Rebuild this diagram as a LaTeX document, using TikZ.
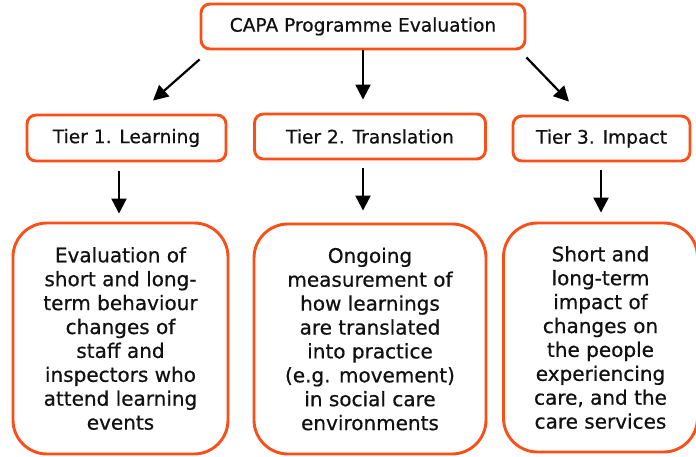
\documentclass[tikz,border=0pt]{standalone}
\usepackage{fontspec}
\setmainfont{DejaVu Sans}
\newfontfamily\vfont[BoldFont={DejaVu Sans}, BoldFeatures={FakeBold=0.6}]{DejaVu Sans}
\usetikzlibrary{arrows.meta,calc}
\definecolor{boxorange}{HTML}{F9501A}
\definecolor{txt}{HTML}{111111}
\tikzset{
  topbox/.style={draw=boxorange, line width=2.9pt, rounded corners=9pt, fill=white, text=txt,
    font=\vfont\bfseries\fontsize{18.6}{22}\selectfont, inner sep=0pt},
  bigbox/.style={draw=boxorange, line width=2.9pt, rounded corners=34pt, fill=white, text=txt,
    align=center, font=\vfont\bfseries\fontsize{20}{23.9}\selectfont, inner sep=0pt},
  arr/.style={draw=black, line width=2.2pt, -{Triangle[length=15pt,width=15pt]}}
}
\begin{document}
\begin{tikzpicture}[x=1pt,y=-1pt]
\useasboundingbox (0,0) rectangle (696,457);
\clip (0,0) rectangle (696,457);
% top
\node[topbox, minimum width=324pt, minimum height=45pt] (top) at (363,26.5) {CAPA Programme Evaluation};
% tiers
\node[topbox, minimum width=199pt, minimum height=46pt] (t1) at (126.5,138) {Tier 1. Learning};
\node[topbox, minimum width=231pt, minimum height=45pt] (t2) at (370,136.5) {Tier 2. Translation};
\node[topbox, minimum width=177pt, minimum height=45pt] (t3) at (601.5,138.5) {Tier 3. Impact};
% bottom boxes
\node[bigbox, minimum width=215pt, minimum height=231pt] (b1) at (120.5,338.5)
  {Evaluation of\\short and long-\\term behaviour\\changes of\\staff and\\inspectors who\\attend learning\\events};
\node[bigbox, minimum width=232pt, minimum height=230pt] (b2) at (370,339)
  {Ongoing\\measurement of\\how learnings\\are translated\\into practice\\(e.g. movement)\\in social care\\environments};
\node[bigbox, minimum width=194pt, minimum height=229pt] (b3) at (600.5,337.5)
  {Short and\\long-term\\impact of\\changes on\\the people\\experiencing\\care, and the\\care services};
% arrows
\draw[arr] ($(top.south west)+(0,9)$) -- ($(t1.north)+(26.5,-13)$);
\draw[arr] (top.south) -- ($(t2.north)+(-7,-13)$);
\draw[arr] ($(top.south east)+(0,7)$) -- ($(t3.north)+(-32.5,-13)$);
\draw[arr] ($(t1.south)+(-7.5,9)$) -- ($(b1.north)+(-1.5,-8)$);
\draw[arr] ($(t2.south)+(-7,8)$) -- ($(b2.north)+(-7,-12)$);
\draw[arr] ($(t3.south)+(-0.5,8)$) -- ($(b3.north)+(0.5,-9)$);
\end{tikzpicture}
\end{document}
